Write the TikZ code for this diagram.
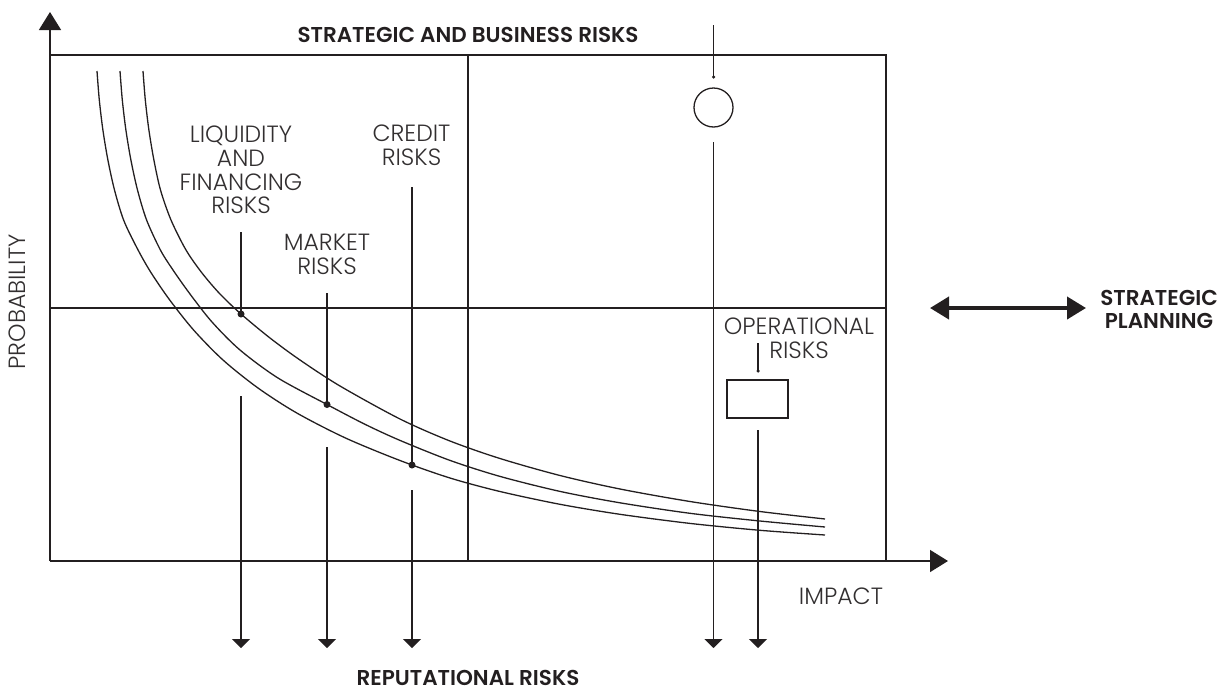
\documentclass[tikz,border=0pt]{standalone}
\usepackage{fontspec}
\setmainfont{Poppins}
\newfontfamily\lightfont{Poppins Light}
\newfontfamily\headfont{Poppins SemiBold}
\usetikzlibrary{arrows.meta}
\definecolor{ink}{RGB}{35,31,32}
\definecolor{txt}{RGB}{50,47,48}
\tikzset{
  thin line/.style={draw=ink, line width=1.3pt},
  frame line/.style={draw=ink, line width=1.5pt},
  curveline/.style={draw=ink, line width=1.3pt},
  lbl/.style={inner sep=0pt, text=txt, align=center, font=\lightfont\fontsize{23.5}{23.7}\selectfont},
  head/.style={inner sep=0pt, text=ink, align=center, font=\headfont\fontsize{21.5}{23.2}\selectfont},
  dotnode/.style={circle, fill=ink, inner sep=0pt, minimum size=7pt},
  tinydot/.style={circle, fill=ink, inner sep=0pt, minimum size=3.5pt},
  downarrow/.style={thin line, -{Triangle[length=9pt,width=18pt]}},
  axisarrow/.style={frame line, -{Triangle[length=18pt,width=22pt]}}
}
\begin{document}
\begin{tikzpicture}[x=1pt,y=-1pt]
\useasboundingbox (0,0) rectangle (1224,691);
% frame
\coordinate (O) at (50,561);
\coordinate (ytip) at (50,12);
\coordinate (xtip) at (948,561);
\coordinate (TL) at (50,55);
\coordinate (TR) at (886,55);
\coordinate (BR) at (886,561);
\coordinate (MT) at (468,55);
\coordinate (MB) at (468,561);
\coordinate (ML) at (50,308);
\coordinate (MR) at (886,308);
\draw[frame line] (TL) -- (TR) -- (BR);
\draw[frame line] (MT) -- (MB);
\draw[frame line] (ML) -- (MR);
\draw[axisarrow] (O) -- (ytip);
\draw[axisarrow] (O) -- (xtip);
% curves
\draw[curveline] plot[smooth, tension=0.5] coordinates {(143,71) (145.3,100) (148.9,130) (153.9,160) (160.5,190) (171,220) (186,250) (202,273) (220,294) (241,314) (270,338) (300,360) (340,386) (400,419) (450,441) (500,458.5) (560,475.5) (620,489) (690,501.5) (760,511.5) (825,519)};
\draw[curveline] plot[smooth, tension=0.5] coordinates {(120,71) (122.3,100) (125.9,130) (130.9,160) (137.5,190) (146.6,220) (160.4,250) (173,270) (190,294) (212,322) (240,350) (278,378) (327,404.5) (365,424.3) (400,440.4) (450,460.4) (500,476.4) (560,491.4) (620,502.8) (690,513.3) (760,521) (825,527)};
\draw[curveline] plot[smooth, tension=0.5] coordinates {(97,71) (99.3,100) (102.9,130) (107.9,160) (114.5,190) (123.6,220) (136.5,247) (150,271) (169,299) (193.6,330) (223,360) (258,388) (296.8,413) (345.5,438) (400,460.5) (450,478) (500,491.5) (560,504.3) (620,514.3) (690,523.4) (760,530.3) (825,535)};
% dots on curves
\node[dotnode] (liqdot) at (241,314) {};
\node[dotnode] (mktdot) at (327,404.5) {};
\node[dotnode] (crddot) at (412,465) {};
% upper segments
\coordinate (liqtop) at (241,232);
\coordinate (mkttop) at (327,293);
\coordinate (crdtop) at (412,187);
\draw[thin line] (liqtop) -- (liqdot.center);
\draw[thin line] (mkttop) -- (mktdot.center);
\draw[thin line] (crdtop) -- (crddot.center);
% lower arrows
\coordinate (liqlow) at (241,396);
\coordinate (mktlow) at (327,447);
\coordinate (crdlow) at (412,490);
\coordinate (liqend) at (241,648);
\coordinate (mktend) at (327,648);
\coordinate (crdend) at (412,648);
\draw[downarrow] (liqlow) -- (liqend);
\draw[downarrow] (mktlow) -- (mktend);
\draw[downarrow] (crdlow) -- (crdend);
% strategic circle
\node[draw=ink, line width=1.3pt, circle, minimum size=39pt, inner sep=0pt] (strat) at (713.5,107.5) {};
\coordinate (strattop) at (713.5,25);
\node[tinydot] (stratdot) at (713.5,77) {};
\draw[thin line] (strattop) -- (stratdot.center);
\coordinate (stratlow) at (713.5,142);
\coordinate (stratend) at (713.5,648);
\draw[downarrow] (stratlow) -- (stratend);
% operational rectangle
\node[draw=ink, line width=1.3pt, rectangle, minimum width=61pt, minimum height=38pt, inner sep=0pt] (oper) at (757.5,399) {};
\coordinate (opertop) at (758,343);
\node[tinydot] (operdot) at (758,371) {};
\draw[thin line] (opertop) -- (operdot.center);
\coordinate (operlow) at (758,430);
\coordinate (operend) at (758,648);
\draw[downarrow] (operlow) -- (operend);
% strategic planning double arrow
\coordinate (spL) at (930,308);
\coordinate (spR) at (1086,308);
\draw[draw=ink, line width=4pt, {Triangle[length=19pt,width=22pt]}-{Triangle[length=19pt,width=22pt]}] (spL) -- (spR);
% texts
\node[head, anchor=base] (thead) at (468,42) {STRATEGIC AND BUSINESS RISKS};
\node[lbl, rotate=90, anchor=center] (tprob) at (17.5,302) {PROBABILITY};
\node[lbl, anchor=north] (tliq) at (241,126) {LIQUIDITY\\AND\\FINANCING\\RISKS};
\node[lbl, anchor=north] (tmkt) at (327,234) {MARKET\\RISKS};
\node[lbl, anchor=north] (tcrd) at (411.5,125) {CREDIT\\RISKS};
\node[lbl, anchor=north] (topr) at (799,318) {OPERATIONAL\\RISKS};
\node[head, anchor=north] (tsp) at (1159,290) {STRATEGIC\\PLANNING};
\node[lbl, anchor=north] (timp) at (841,588) {IMPACT};
\node[head, anchor=north] (trep) at (468,670) {REPUTATIONAL RISKS};
\end{tikzpicture}
\end{document}
